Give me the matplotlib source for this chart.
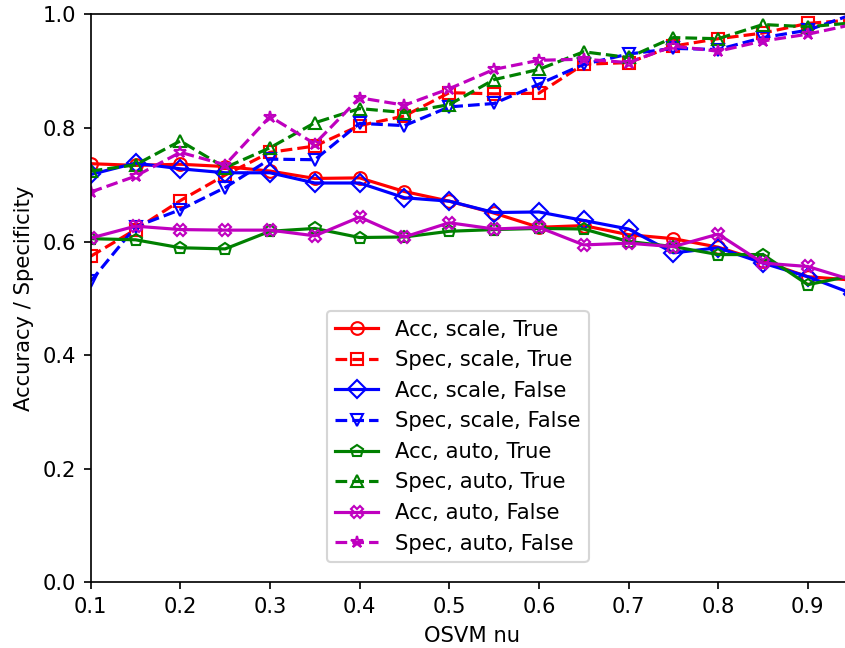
import matplotlib
matplotlib.use("Agg")
import matplotlib.pyplot as plt

# OSVM nu values
nu = [0.1, 0.15, 0.2, 0.25, 0.3, 0.35, 0.4, 0.45, 0.5, 0.55,
      0.6, 0.65, 0.7, 0.75, 0.8, 0.85, 0.9, 0.95]

# gamma = scale, shrinking = True
acc_scale_true = [0.737, 0.734, 0.736, 0.732, 0.724, 0.711, 0.712, 0.688, 0.671, 0.650,
                  0.625, 0.628, 0.612, 0.605, 0.590, 0.565, 0.538, 0.532]
spec_scale_true = [0.574, 0.621, 0.672, 0.717, 0.757, 0.768, 0.804, 0.821, 0.862, 0.860,
                   0.861, 0.912, 0.915, 0.944, 0.957, 0.967, 0.984, 0.990]

# gamma = scale, shrinking = False
acc_scale_false = [0.718, 0.738, 0.728, 0.721, 0.721, 0.703, 0.703, 0.677, 0.671, 0.651,
                   0.652, 0.637, 0.622, 0.580, 0.589, 0.562, 0.538, 0.508]
spec_scale_false = [0.530, 0.626, 0.656, 0.695, 0.745, 0.744, 0.808, 0.804, 0.837, 0.843,
                    0.877, 0.912, 0.930, 0.940, 0.938, 0.959, 0.972, 1.000]

# gamma = auto, shrinking = True
acc_auto_true = [0.605, 0.603, 0.589, 0.587, 0.618, 0.623, 0.607, 0.608, 0.618, 0.621,
                 0.623, 0.622, 0.600, 0.591, 0.577, 0.577, 0.524, 0.540]
spec_auto_true = [0.724, 0.735, 0.777, 0.730, 0.765, 0.809, 0.834, 0.827, 0.841, 0.885,
                  0.903, 0.934, 0.924, 0.959, 0.957, 0.982, 0.978, 0.985]

# gamma = auto, shrinking = False
acc_auto_false = [0.606, 0.627, 0.621, 0.620, 0.620, 0.610, 0.643, 0.608, 0.633, 0.622,
                  0.625, 0.594, 0.597, 0.591, 0.613, 0.562, 0.556, 0.532]
spec_auto_false = [0.687, 0.715, 0.757, 0.735, 0.820, 0.772, 0.853, 0.840, 0.869, 0.903,
                   0.919, 0.921, 0.915, 0.944, 0.935, 0.953, 0.965, 0.982]

series = [
    (acc_scale_true, 'r-', 'o', 'Acc, scale, True'),
    (spec_scale_true, 'r--', 's', 'Spec, scale, True'),
    (acc_scale_false, 'b-', 'D', 'Acc, scale, False'),
    (spec_scale_false, 'b--', 'v', 'Spec, scale, False'),
    (acc_auto_true, 'g-', 'p', 'Acc, auto, True'),
    (spec_auto_true, 'g--', '^', 'Spec, auto, True'),
    (acc_auto_false, 'm-', 'X', 'Acc, auto, False'),
    (spec_auto_false, 'm--', '*', 'Spec, auto, False'),
]

DPI = 152
fig = plt.figure(figsize=(845 / DPI, 648 / DPI), dpi=DPI)
# axes runs a bit past the right edge of the picture, as in the original
ax = fig.add_axes([90.7 / 845, 65.7 / 648, 761.9 / 845, 568 / 648])

for vals, fmt, mk, lab in series:
    ax.plot(nu, vals, fmt, marker=mk, fillstyle='none', label=lab)

ax.set_xlim(0.1, 0.95)
ax.set_ylim(0.0, 1.0)
ax.set_xticks([0.1, 0.2, 0.3, 0.4, 0.5, 0.6, 0.7, 0.8, 0.9])
ax.set_xlabel('OSVM nu')
ax.set_ylabel('Accuracy / Specificity')

ax.legend(loc='lower left', bbox_to_anchor=(327 / 845, 86 / 648),
          bbox_transform=fig.transFigure, borderaxespad=0)

plt.savefig('out.png', dpi=DPI)
